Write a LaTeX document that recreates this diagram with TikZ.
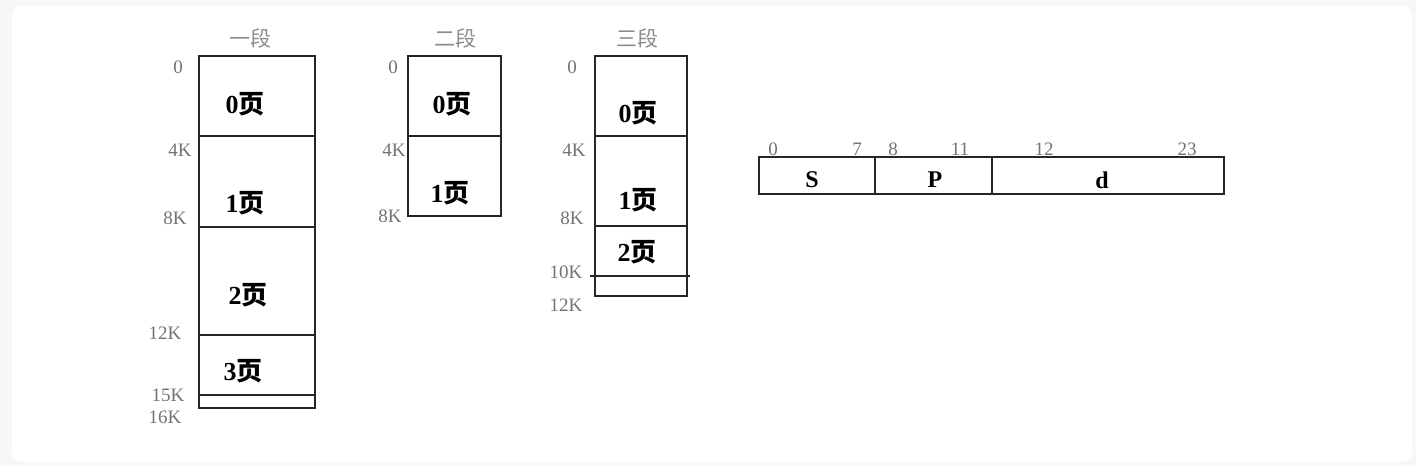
\documentclass[tikz,border=0pt]{standalone}
\usepackage{fontspec}
\setmainfont{Liberation Serif}
\newfontfamily\cjk{Noto Sans CJK SC}
\begin{document}
\begin{tikzpicture}[x=1pt,y=-1pt,
  box/.style={draw=black!85,line width=2pt},
  num/.style={text=black!55,font=\fontsize{19}{19}\selectfont,inner sep=0pt},
  ttl/.style={text=black!45,font=\cjk\fontsize{21}{21}\selectfont,inner sep=0pt},
  pg/.style={text=black,font=\fontsize{26}{26}\selectfont\bfseries,inner sep=0pt},
  fld/.style={text=black,font=\fontsize{24}{24}\selectfont\bfseries,inner sep=0pt}]
\newcommand{\ye}{{\cjk\bfseries 页}}
\useasboundingbox (0,0) rectangle (1416,466);
\fill[black!3] (0,0) rectangle (1416,466);
\fill[white,rounded corners=10pt] (12,6) rectangle (1412,462);
% segment 1
\draw[box] (199,56) rectangle (315,408);
\draw[box] (199,136) -- (315,136);
\draw[box] (199,227) -- (315,227);
\draw[box] (199,335) -- (315,335);
\draw[box] (199,395) -- (315,395);
\node[ttl] (t1) at (250,38) {一段};
\node[num] (a0) at (178,67) {0};
\node[num] (a4) at (180,150) {4K};
\node[num] (a8) at (175,218) {8K};
\node[num] (a12) at (165,333) {12K};
\node[num] (a15) at (168,395) {15K};
\node[num] (a16) at (165,417) {16K};
\node[pg] (p10) at (245,104) {0\ye};
\node[pg] (p11) at (245,203) {1\ye};
\node[pg] (p12) at (248,295) {2\ye};
\node[pg] (p13) at (243,371) {3\ye};
% segment 2
\draw[box] (408,56) rectangle (501,216);
\draw[box] (408,136) -- (501,136);
\node[ttl] (t2) at (455,38) {二段};
\node[num] (b0) at (393,67) {0};
\node[num] (b4) at (394,150) {4K};
\node[num] (b8) at (390,216) {8K};
\node[pg] (p20) at (452,104) {0\ye};
\node[pg] (p21) at (450,193) {1\ye};
% segment 3
\draw[box] (595,56) rectangle (687,296);
\draw[box] (595,136) -- (687,136);
\draw[box] (595,226) -- (687,226);
\draw[box] (590,276) -- (690,276);
\node[ttl] (t3) at (637,38) {三段};
\node[num] (c0) at (572,67) {0};
\node[num] (c4) at (574,150) {4K};
\node[num] (c8) at (572,218) {8K};
\node[num] (c10) at (566,272) {10K};
\node[num] (c12) at (566,305) {12K};
\node[pg] (p30) at (638,113) {0\ye};
\node[pg] (p31) at (638,200) {1\ye};
\node[pg] (p32) at (637,252) {2\ye};
% address format
\draw[box] (759,157) rectangle (1224,194);
\draw[box] (875,157) -- (875,194);
\draw[box] (992,157) -- (992,194);
\node[fld] (fs) at (812,180) {S};
\node[fld] (fp) at (935,180) {P};
\node[fld] (fd) at (1102,180) {d};
\node[num] (n0) at (773,149) {0};
\node[num] (n7) at (857,149) {7};
\node[num] (n8) at (893,149) {8};
\node[num] (n11) at (960,149) {11};
\node[num] (n12) at (1044,149) {12};
\node[num] (n23) at (1187,149) {23};
\end{tikzpicture}
\end{document}
